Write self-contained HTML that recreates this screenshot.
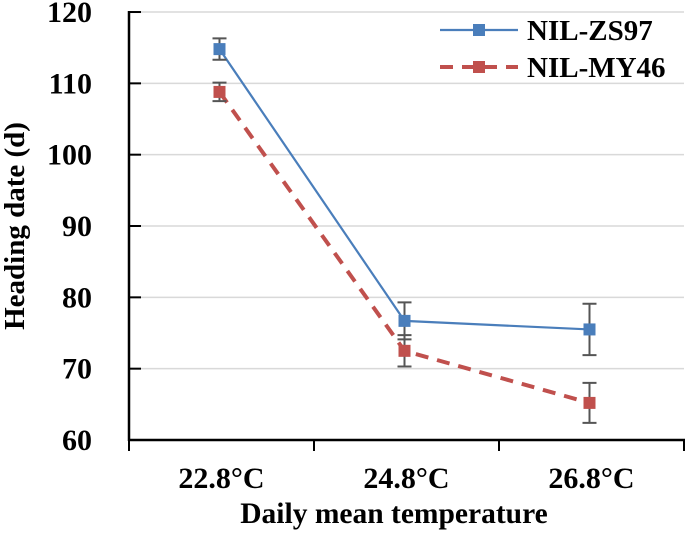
<!DOCTYPE html>
<html><head><meta charset="utf-8"><style>
body{margin:0;background:#fff}
svg{display:block;font-family:"Liberation Serif",serif;font-weight:bold}
</style></head><body>
<svg width="685" height="539" id="c"></svg>
<script>
const categories=["22.8°C","24.8°C","26.8°C"];
const zs97=[114.8,76.7,75.5];
const zs97Err=[1.5,2.6,3.6];
const my46=[108.8,72.5,65.2];
const my46Err=[1.3,2.2,2.8];
const yTicks=[60,70,80,90,100,110,120];
const NS="http://www.w3.org/2000/svg";
const svg=document.getElementById('c');
const y=v=>440-(v-60)*7.133;
const x0=129,band=185;
const px=i=>x0+band*(i+0.5)-2;
const lx=i=>x0+band*(i+0.5);
function mk(t,a,p){const e=document.createElementNS(NS,t);for(const k in a)e.setAttribute(k,a[k]);(p||svg).appendChild(e);return e;}
yTicks.forEach(v=>{
  if(v>60){const g=mk('line',{x1:129,x2:684,y1:y(v),y2:y(v),stroke:'#d9d9d9','stroke-width':1.5});
  
  }
  const t=mk('line',{x1:129,x2:141,y1:y(v),y2:y(v),stroke:'#000','stroke-width':2});
  
  
  const l=mk('text',{x:92,y:y(v)+10,'text-anchor':'end','font-size':30});
  l.textContent=v;
  
  
});
const ya=mk('line',{x1:129,x2:129,y1:11,y2:441,stroke:'#000','stroke-width':2.5});


const xa=mk('line',{x1:128,x2:685,y1:440,y2:440,stroke:'#000','stroke-width':2.5});


[0,1,2,3].forEach(k=>{const x=Math.min(x0+band*k,684);const t=mk('line',{x1:x,x2:x,y1:440,y2:451,stroke:'#000','stroke-width':2});

});
categories.forEach((c,i)=>{const t=mk('text',{x:lx(i),y:488,'text-anchor':'middle','font-size':30});t.textContent=c;

});
function series(vals,errs,color,dash,name){
  const g=mk('g',{});
  
  
  mk('polyline',{points:vals.map((v,i)=>px(i)+','+y(v)).join(' '),fill:'none',stroke:color,'stroke-width':dash?4:2.2,'stroke-dasharray':dash?'13 9':'none'},g);
  vals.forEach((v,i)=>{
    const e=mk('path',{d:`M${px(i)},${y(v+errs[i])}V${y(v-errs[i])}M${px(i)-7},${y(v+errs[i])}h14M${px(i)-7},${y(v-errs[i])}h14`,stroke:'#555','stroke-width':2,fill:'none'},g);
    
    
    const m=mk('rect',{x:px(i)-6,y:y(v)-6,width:12,height:12,fill:color},g);
    
    
  });
}
series(zs97,zs97Err,'#4a7ebb',false,'series-nil-zs97');
series(my46,my46Err,'#c0504d',true,'series-nil-my46');
const legend=[["NIL-ZS97","#4a7ebb",false,30],["NIL-MY46","#c0504d",true,67]];
legend.forEach(([n,c,d,yy])=>{
  const g=mk('g',{});
  
  
  mk('line',{x1:440,x2:518,y1:yy,y2:yy,stroke:c,'stroke-width':d?4:2.2,'stroke-dasharray':d?'13 9':'none'},g);
  mk('rect',{x:473,y:yy-6,width:12,height:12,fill:c},g);
  const t=mk('text',{x:527,y:yy+10,'font-size':29},g);t.textContent=n;
});
const yt=mk('text',{x:0,y:0,transform:'translate(24,226) rotate(-90)','text-anchor':'middle','font-size':29});
yt.textContent='Heading date (d)';


const xt=mk('text',{x:394,y:523,'text-anchor':'middle','font-size':29.5});
xt.textContent='Daily mean temperature';


</script>
</body></html>
